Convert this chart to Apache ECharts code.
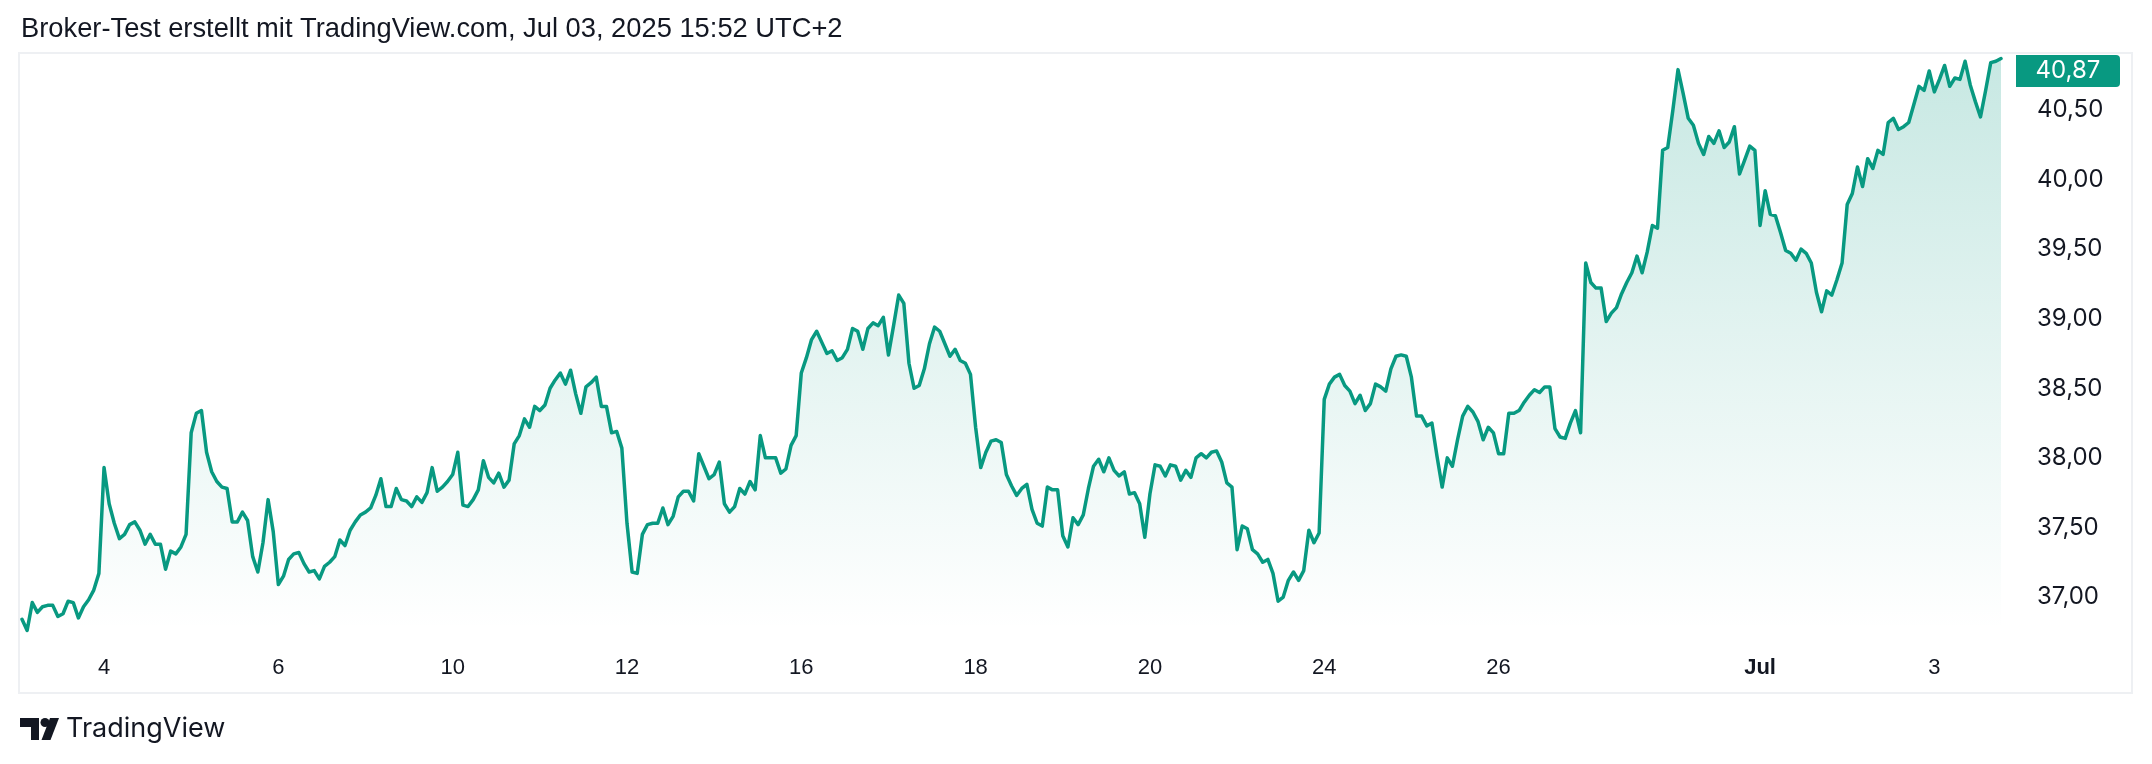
<!DOCTYPE html>
<html>
<head>
<meta charset="utf-8">
<script src="https://cdn.jsdelivr.net/npm/echarts@6/dist/echarts.min.js"></script>
<style>
  html, body { margin: 0; padding: 0; background: #ffffff; }
  #chart { width: 2152px; height: 764px; }
</style>
</head>
<body>
<div id="chart"></div>
<script>
// ---- Data ----
const titleText = 'Broker-Test erstellt mit TradingView.com, Jul 03, 2025 15:52 UTC+2';

const tradingDays = ['2025-06-03','2025-06-04','2025-06-05','2025-06-06','2025-06-09','2025-06-10','2025-06-11',
  '2025-06-12','2025-06-13','2025-06-16','2025-06-17','2025-06-18','2025-06-19','2025-06-20','2025-06-23',
  '2025-06-24','2025-06-25','2025-06-26','2025-06-27','2025-06-30','2025-07-01','2025-07-02','2025-07-03'];

const sessionBars = ['06:00','07:00','08:00','09:00','10:00','11:00','12:00','13:00','14:00','15:00',
  '16:00','17:00','18:00','19:00','20:00','21:00','22:00'];

const jun03 = [36.84,36.76,36.96,36.89,36.93,36.94,36.94,36.86,36.88,36.97,36.96,36.85,36.93,36.98,37.05,37.17];
const jun04 = [37.93,37.67,37.53,37.42,37.45,37.52,37.54,37.48,37.38,37.45,37.38,37.38,37.20,37.33,37.31,37.36,37.45];
const jun05 = [38.18,38.32,38.34,38.04,37.90,37.83,37.79,37.78,37.54,37.54,37.61,37.55,37.29,37.18,37.39,37.70,37.47];
const jun06 = [37.09,37.15,37.27,37.31,37.32,37.24,37.18,37.19,37.13,37.22,37.25,37.29,37.41,37.37,37.48,37.54,37.59];
const jun09 = [37.61,37.64,37.73,37.85,37.65,37.65,37.78,37.70,37.69,37.65,37.72,37.68,37.75,37.93,37.76,37.79,37.83];
const jun10 = [37.88,38.04,37.66,37.65,37.70,37.77,37.98,37.86,37.82,37.89,37.79,37.84,38.10,38.16,38.28,38.22,38.37];
const jun11 = [38.34,38.38,38.50,38.56,38.61,38.53,38.63,38.46,38.32,38.51,38.54,38.58,38.37,38.37,38.18,38.19,38.07];
const jun12 = [37.53,37.18,37.17,37.45,37.52,37.53,37.53,37.64,37.52,37.58,37.72,37.76,37.76,37.69,38.03,37.94,37.85];
const jun13 = [37.88,37.97,37.67,37.61,37.65,37.78,37.74,37.83,37.77,38.16,38.00,38.00,38.00,37.89,37.92,38.09,38.16];
const jun16 = [38.61,38.72,38.85,38.91,38.83,38.75,38.77,38.70,38.72,38.78,38.93,38.91,38.78,38.93,38.97,38.95,39.01];
const jun17 = [38.74,38.95,39.17,39.11,38.68,38.50,38.52,38.64,38.82,38.94,38.91,38.82,38.73,38.78,38.70,38.68,38.60];
const jun18 = [38.22,37.93,38.04,38.12,38.13,38.11,37.88,37.80,37.73,37.78,37.81,37.63,37.53,37.51,37.79,37.77,37.77];
const jun19 = [37.44,37.36,37.57,37.52,37.59,37.78,37.94,37.99,37.90,38.00,37.91,37.87,37.90,37.74,37.75,37.67,37.43];
const jun20 = [37.74,37.95,37.94,37.87,37.95,37.94,37.84,37.91,37.86,38.00,38.03,38.00,38.04,38.05,37.97,37.82,37.79];
const jun23 = [37.34,37.51,37.49,37.34,37.31,37.25,37.27,37.17,36.97,37.00,37.12,37.18,37.12,37.19,37.48,37.39,37.46];
const jun24 = [38.42,38.53,38.58,38.60,38.52,38.48,38.39,38.45,38.34,38.39,38.53,38.51,38.48,38.64,38.73,38.74,38.73];
const jun25 = [38.58,38.30,38.30,38.23,38.25,38.01,37.79,38.00,37.94,38.13,38.30,38.37,38.33,38.26,38.13,38.22,38.18];
const jun26 = [38.03,38.03,38.32,38.32,38.34,38.40,38.45,38.49,38.47,38.51,38.51,38.21,38.15,38.14,38.25,38.34,38.18];
const jun27 = [39.40,39.26,39.22,39.22,38.98,39.04,39.08,39.18,39.26,39.33,39.45,39.33,39.48,39.67,39.65,40.21,40.23];
const jun30 = [40.50,40.79,40.62,40.44,40.39,40.26,40.18,40.31,40.26,40.35,40.23,40.27,40.38,40.04,40.14,40.24,40.21];
const jul01 = [39.67,39.92,39.75,39.74,39.62,39.49,39.47,39.42,39.50,39.47,39.40,39.19,39.05,39.20,39.17,39.28,39.40];
const jul02 = [39.82,39.90,40.09,39.95,40.15,40.08,40.21,40.18,40.41,40.44,40.36,40.38,40.41,40.54,40.67,40.64,40.78];
const jul03 = [40.63,40.72,40.82,40.67,40.73,40.72,40.85,40.68,40.56,40.45,40.64,40.84,40.85,40.87];

const dayValues = [jun03,jun04,jun05,jun06,jun09,jun10,jun11,jun12,jun13,jun16,jun17,jun18,jun19,jun20,
  jun23,jun24,jun25,jun26,jun27,jun30,jul01,jul02,jul03];

const tickDays = ['2025-06-04','2025-06-06','2025-06-10','2025-06-12','2025-06-16','2025-06-18',
  '2025-06-20','2025-06-24','2025-06-26','2025-07-01','2025-07-03'];
const tickLabels = ['4','6','10','12','16','18','20','24','26','Jul','3'];

const yTicks = { min: 36.5, max: 41.0, step: 0.5 };
const areaBase = 36.79;

// ---- Build category axis and series ----
const categories = [];
const prices = [];
dayValues.forEach((vals, d) => {
  const start = d === 0 ? sessionBars.length - vals.length : 0;
  vals.forEach((v, k) => {
    categories.push(tradingDays[d] + ' ' + sessionBars[start + k]);
    prices.push(v);
  });
});
const firstBarOfDay = {};
categories.forEach(c => {
  const day = c.slice(0, 10);
  if (!(day in firstBarOfDay)) firstBarOfDay[day] = c;
});
const labelFor = {};
tickDays.forEach((d, i) => { labelFor[firstBarOfDay[d]] = tickLabels[i]; });

const fmt = v => v.toFixed(2).replace('.', ',');
const lastIdx = prices.length - 1;

const chart = echarts.init(document.getElementById('chart'), null, { renderer: 'canvas' });
chart.setOption({
  animation: false,
  backgroundColor: '#ffffff',
  grid: { left: 22, right: 151, top: 40.4, bottom: 97.4, containLabel: false },
  xAxis: {
    type: 'category',
    data: categories,
    boundaryGap: false,
    axisLine: { show: false },
    axisTick: { show: false },
    splitLine: { show: false },
    axisLabel: {
      interval: (idx, val) => val in labelFor,
      formatter: val => {
        const t = labelFor[val] || '';
        return t === 'Jul' ? '{b|Jul}' : t;
      },
      margin: -10,
      color: '#131722',
      fontFamily: 'Liberation Sans',
      fontSize: 22,
      rich: { b: { fontWeight: 'bold', fontFamily: 'Liberation Sans', fontSize: 22, color: '#131722' } }
    }
  },
  yAxis: {
    type: 'value',
    position: 'right',
    min: yTicks.min,
    max: yTicks.max,
    interval: yTicks.step,
    axisLine: { show: false },
    axisTick: { show: false },
    splitLine: { show: false },
    axisLabel: {
      showMinLabel: false,
      showMaxLabel: false,
      align: 'left',
      margin: 36,
      color: '#131722',
      fontFamily: 'Inter',
      fontSize: 24,
      formatter: v => fmt(v)
    }
  },
  series: [{
    type: 'line',
    data: prices,
    clip: false,
    showSymbol: false,
    symbol: 'none',
    lineStyle: { color: '#089981', width: 3.5, join: 'round', cap: 'round' },
    areaStyle: {
      origin: areaBase,
      color: new echarts.graphic.LinearGradient(0, 0, 0, 1, [
        { offset: 0, color: 'rgba(8,153,129,0.32)' },
        { offset: 1, color: 'rgba(8,153,129,0.0)' }
      ])
    },
    markPoint: {
      silent: true,
      symbol: 'path://M0,0 H100 Q104,0 104,4 V28 Q104,32 100,32 H0 Z',
      symbolSize: [104, 32],
      symbolOffset: [67, 12.5],
      itemStyle: { color: '#089981' },
      label: {
        show: true,
        position: 'inside',
        color: '#ffffff',
        fontFamily: 'Inter',
        fontSize: 24,
        formatter: p => fmt(p.value)
      },
      data: [{ coord: [lastIdx, prices[lastIdx]], value: prices[lastIdx] }]
    }
  }],
  graphic: [
    { type: 'rect', z: 0, silent: true,
      shape: { x: 19, y: 53, width: 2113, height: 640 },
      style: { fill: 'none', stroke: '#eef0f3', lineWidth: 2 } },
    { type: 'text', silent: true,
      style: { x: 21, y: 29, text: titleText, fill: '#131722', font: '27.3px "Liberation Sans"', verticalAlign: 'middle' } },
    // TradingView logo
    { type: 'group', x: 20, y: 718, silent: true, children: [
      { type: 'polygon', shape: { points: [[0,0],[19,0],[19,22],[11,22],[11,9],[0,9]] }, style: { fill: '#131722' } },
      { type: 'circle', shape: { cx: 25, cy: 4.5, r: 4.5 }, style: { fill: '#131722' } },
      { type: 'polygon', shape: { points: [[30,0],[39,0],[30.5,22],[21.5,22]] }, style: { fill: '#131722' } }
    ]},
    { type: 'text', silent: true,
      style: { x: 66, y: 729, text: 'TradingView', fill: '#131722', font: '27px Inter', verticalAlign: 'middle' } }
  ]
});
</script>
</body>
</html>
